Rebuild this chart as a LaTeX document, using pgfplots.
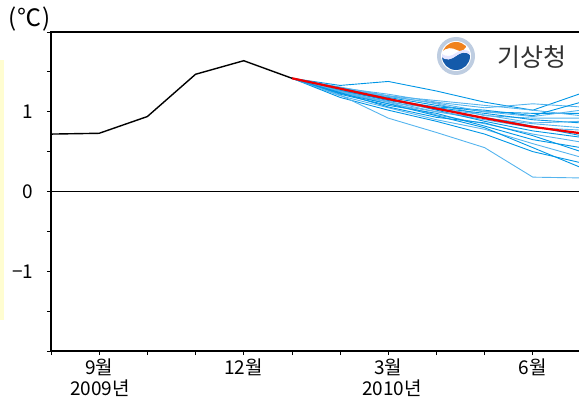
\documentclass[border=0pt]{standalone}
\usepackage{pgfplots}
\pgfplotsset{compat=1.18}
\usepackage{pgfplotstable}
\usepackage{fontspec}
\setmainfont{Noto Sans CJK KR}
\definecolor{bA}{RGB}{0,150,230}
\definecolor{bB}{RGB}{85,180,238}
\definecolor{obsred}{RGB}{240,0,0}
\definecolor{logoblue}{RGB}{20,90,170}
\definecolor{logoorange}{RGB}{240,130,30}
\definecolor{ringc}{RGB}{190,205,225}

\pgfplotstableread{
x y
0 0.72
1 0.73
2 0.94
3 1.47
4 1.64
5 1.42
}\obs

\pgfplotstableread{
x y
5 1.42
6 1.29
7 1.16
8 1.04
9 0.92
10 0.81
11 0.73
}\mean

\pgfplotstableread{
x m1 m2 m3 m4 m5 m6 m7 m8 m9 m10 m11 m12 m13 m14 m15 m16 m17 m18 m19 m20
5 1.42 1.42 1.42 1.42 1.42 1.42 1.42 1.42 1.42 1.42 1.42 1.42 1.42 1.42 1.42 1.42 1.42 1.42 1.42 1.42
6 1.33 1.30 1.28 1.31 1.27 1.25 1.26 1.24 1.22 1.20 1.18 1.21 1.23 1.29 1.27 1.25 1.30 1.26 1.24 1.28
7 1.38 1.22 1.18 1.20 1.14 1.10 1.16 1.12 1.08 1.05 1.02 0.92 1.10 1.20 1.15 1.13 1.17 1.12 1.06 1.19
8 1.26 1.12 1.08 1.10 1.05 1.00 1.02 0.96 0.98 0.90 0.88 0.74 0.95 1.14 1.06 1.00 1.03 1.04 0.93 1.11
9 1.12 1.05 1.00 0.95 0.98 0.90 0.88 0.85 0.82 0.78 0.72 0.55 0.80 1.08 1.02 0.92 0.93 0.96 0.86 1.00
10 1.02 1.10 0.98 0.92 0.90 0.80 0.76 0.72 0.65 0.60 0.50 0.18 0.55 1.02 0.95 0.85 0.82 0.86 0.70 0.94
11 1.23 1.06 0.98 0.92 0.86 0.77 0.68 0.62 0.55 0.43 0.36 0.17 0.30 0.95 1.12 0.80 0.70 0.88 0.50 1.02
}\ens

\begin{document}
\begin{tikzpicture}[x=1pt,y=1pt]
\path[use as bounding box] (0,0) rectangle (579,405);
\clip (0,0) rectangle (579,405);
\fill[yellow!18] (0,85) rectangle (4,345);
\begin{axis}[
  at={(51pt,54pt)}, anchor=south west,
  scale only axis, width=530pt, height=319pt,
  xmin=0, xmax=11, ymin=-2, ymax=2,
  axis line style={black, line width=1.2pt},
  xtick={0,...,11},
  xticklabels={,9월,,,12월,,,3월,,,6월,},
  ytick={-2,-1,0,1,2},
  yticklabels={,−1,0,1,},
  minor ytick={-1.5,-0.5,0.5,1.5},
  tick align=outside,
  xtick pos=bottom, ytick pos=left,
  major tick length=4pt, minor tick length=4pt,
  tick style={black, line width=0.8pt},
  ticklabel style={font=\fontsize{19}{21}\selectfont, text=black},
  xticklabel style={yshift=0pt},
  yticklabel style={xshift=-10pt},
  clip=true,
]
\addplot[black, line width=0.8pt] coordinates {(0,0) (11,0)};
\addplot[bA, line width=0.9pt] table[x=x,y=m1]{\ens};
\addplot[bB, line width=0.9pt] table[x=x,y=m2]{\ens};
\addplot[bA, line width=0.9pt] table[x=x,y=m3]{\ens};
\addplot[bB, line width=0.9pt] table[x=x,y=m4]{\ens};
\addplot[bA, line width=0.9pt] table[x=x,y=m5]{\ens};
\addplot[bB, line width=0.9pt] table[x=x,y=m6]{\ens};
\addplot[bA, line width=0.9pt] table[x=x,y=m7]{\ens};
\addplot[bB, line width=0.9pt] table[x=x,y=m8]{\ens};
\addplot[bA, line width=0.9pt] table[x=x,y=m9]{\ens};
\addplot[bB, line width=0.9pt] table[x=x,y=m10]{\ens};
\addplot[bA, line width=0.9pt] table[x=x,y=m11]{\ens};
\addplot[bB, line width=0.9pt] table[x=x,y=m12]{\ens};
\addplot[bA, line width=0.9pt] table[x=x,y=m13]{\ens};
\addplot[bB, line width=0.9pt] table[x=x,y=m14]{\ens};
\addplot[bA, line width=0.9pt] table[x=x,y=m15]{\ens};
\addplot[bB, line width=0.9pt] table[x=x,y=m16]{\ens};
\addplot[bA, line width=0.9pt] table[x=x,y=m17]{\ens};
\addplot[bB, line width=0.9pt] table[x=x,y=m18]{\ens};
\addplot[bA, line width=0.9pt] table[x=x,y=m19]{\ens};
\addplot[bB, line width=0.9pt] table[x=x,y=m20]{\ens};
\addplot[obsred, line width=2.2pt] table[x=x,y=y]{\mean};
\addplot[black, line width=1.4pt] table[x=x,y=y]{\obs};
\end{axis}
\node[font=\fontsize{19}{21}\selectfont] at (100,17) {2009년};
\node[font=\fontsize{19}{21}\selectfont] at (392,17) {2010년};
\node[font=\fontsize{24}{26}\selectfont] at (30,386) {(\kern1pt℃\kern1pt)};
% logo
\fill[white] (436,330) rectangle (579,370);
\fill[ringc] (456,349) circle (19);
\fill[white] (456,349) circle (15);
\begin{scope}
\clip (456,349) circle (14);
\fill[logoblue] (441,349) .. controls (446,343) and (452,346) .. (456,349) .. controls (460,352) and (466,355) .. (471,349) -- (471,334) -- (441,334) -- cycle;
\fill[logoorange] (441,352) .. controls (446,359) and (453,357) .. (457,355) .. controls (461,353) and (463,354) .. (466,358) -- (466,364) -- (441,364) -- cycle;
\fill[white!90!blue] (441,349) .. controls (446,343) and (452,346) .. (456,349) .. controls (460,352) and (466,355) .. (471,349) -- (471,352) .. controls (466,357) and (460,355) .. (456,352) .. controls (452,349) and (446,347) .. (441,352) -- cycle;
\end{scope}
\node[font=\fontsize{25}{27}\selectfont, text={rgb,255:red,50;green,50;blue,50}, anchor=west] at (494,348) {기상청};
\end{tikzpicture}
\end{document}
